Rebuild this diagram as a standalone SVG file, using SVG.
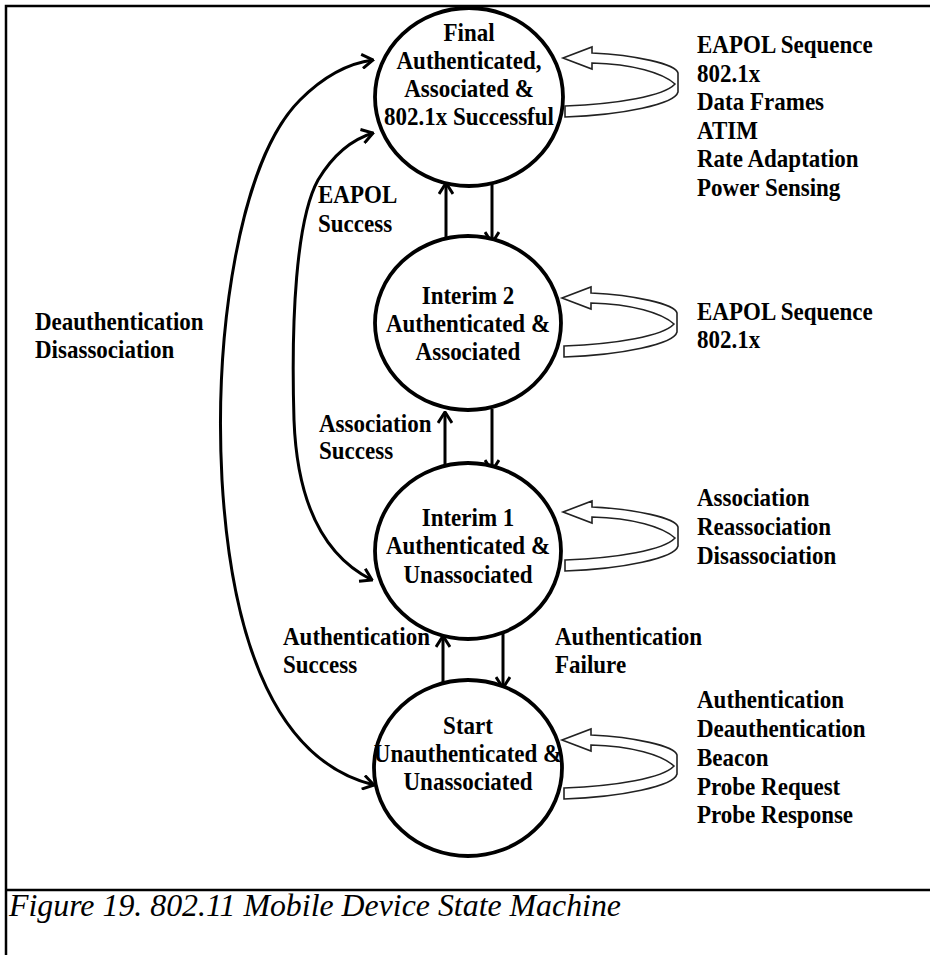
<svg xmlns="http://www.w3.org/2000/svg" xmlns:xlink="http://www.w3.org/1999/xlink" width="930" height="955" viewBox="0 0 930 955">
  <style>
    .frame { fill: none; stroke: #000; stroke-width: 2.5; }
    .state { fill: #fff; stroke: #000; stroke-width: 3.8; }
    .lbl { font-family: "Liberation Serif", "Times New Roman", serif; font-weight: bold; font-size: 25px; fill: #000; }
    .mid { text-anchor: middle; }
    .edge { fill: none; stroke: #000; stroke-width: 3; }
    .loop { fill: #fff; stroke: #222; stroke-width: 1.6; stroke-linejoin: miter; }
    .caption { font-family: "Liberation Serif", "Times New Roman", serif; font-style: italic; font-size: 32px; fill: #000; }
  </style>
  <defs>
    <!-- open chevron arrowhead -->
    <marker id="ah" viewBox="0 0 14 16" refX="12.5" refY="8" markerWidth="14" markerHeight="16" markerUnits="userSpaceOnUse" orient="auto-start-reverse">
      <path d="M1.5,1 L12.5,8 L1.5,15" fill="none" stroke="#000" stroke-width="3"/>
    </marker>
    <!-- hollow self-transition band, origin at the arrow tip -->
    <path id="selfloop" class="loop" d="M0,0 L29,-11 L29,-5 C72,-3 113,6 115,15 L115,34 C112,46 60,57 2,59 L2,48 C55,46 101,38 112,26 C100,15 70,6 29,5 L29,11 Z"/>
  </defs>

  <rect width="930" height="955" fill="#fff"/>

  <!-- figure frame and caption rule -->
  <g id="frame">
    <path class="frame" d="M6,955 L6,6 L930,6"/>
    <path class="frame" d="M6,890 L930,890"/>
  </g>

  <!-- transitions -->
  <g id="connectors">
    <path class="edge" marker-start="url(#ah)" marker-end="url(#ah)" d="M374,785 C280,762 232,650 222,480 C214,330 240,160 300,100 C325,75 350,63 373,60"/>
    <path class="edge" marker-start="url(#ah)" marker-end="url(#ah)" d="M372,580 C322,555 297,500 294,420 C291,320 296,220 318,180 C333,155 350,140 373,133"/>
    <path class="edge" marker-end="url(#ah)" d="M446,238 L446,183"/>
    <path class="edge" marker-end="url(#ah)" d="M492,184 L492,243"/>
    <path class="edge" marker-end="url(#ah)" d="M445,465 L445,412"/>
    <path class="edge" marker-end="url(#ah)" d="M492,409 L492,471"/>
    <path class="edge" marker-end="url(#ah)" d="M443,682 L443,636"/>
    <path class="edge" marker-end="url(#ah)" d="M503,633 L503,688"/>
  </g>

  <!-- states -->
  <g id="state-final">
    <ellipse class="state" cx="469" cy="97" rx="94" ry="89"/>
    <text class="lbl mid" transform="translate(469,41) scale(0.92,1)">Final</text>
    <text class="lbl mid" transform="translate(469,69) scale(0.92,1)">Authenticated,</text>
    <text class="lbl mid" transform="translate(469,97) scale(0.92,1)">Associated &amp;</text>
    <text class="lbl mid" transform="translate(469,125) scale(0.92,1)">802.1x Successful</text>
    <use xlink:href="#selfloop" x="563" y="58"/>
  </g>

  <g id="state-interim2">
    <ellipse class="state" cx="468" cy="323" rx="93" ry="87"/>
    <text class="lbl mid" transform="translate(468,304) scale(0.92,1)">Interim 2</text>
    <text class="lbl mid" transform="translate(468,332) scale(0.92,1)">Authenticated &amp;</text>
    <text class="lbl mid" transform="translate(468,360) scale(0.92,1)">Associated</text>
    <use xlink:href="#selfloop" x="562" y="298"/>
  </g>

  <g id="state-interim1">
    <ellipse class="state" cx="468" cy="551" rx="93" ry="88"/>
    <text class="lbl mid" transform="translate(468,526) scale(0.92,1)">Interim 1</text>
    <text class="lbl mid" transform="translate(468,554) scale(0.92,1)">Authenticated &amp;</text>
    <text class="lbl mid" transform="translate(468,583) scale(0.92,1)">Unassociated</text>
    <use xlink:href="#selfloop" x="563" y="512"/>
  </g>

  <g id="state-start">
    <ellipse class="state" cx="468" cy="768" rx="94" ry="88"/>
    <text class="lbl mid" transform="translate(468,734) scale(0.92,1)">Start</text>
    <text class="lbl mid" transform="translate(468,762) scale(0.92,1)">Unauthenticated &amp;</text>
    <text class="lbl mid" transform="translate(468,790) scale(0.92,1)">Unassociated</text>
    <use xlink:href="#selfloop" x="562" y="740"/>
  </g>

  <!-- event lists for the self transitions -->
  <g id="events-final" class="lbl">
    <text transform="translate(697,53) scale(0.92,1)">EAPOL Sequence</text>
    <text transform="translate(697,81.5) scale(0.92,1)">802.1x</text>
    <text transform="translate(697,110) scale(0.92,1)">Data Frames</text>
    <text transform="translate(697,138.5) scale(0.92,1)">ATIM</text>
    <text transform="translate(697,167) scale(0.92,1)">Rate Adaptation</text>
    <text transform="translate(697,195.5) scale(0.92,1)">Power Sensing</text>
  </g>
  <g id="events-interim2" class="lbl">
    <text transform="translate(697,320) scale(0.92,1)">EAPOL Sequence</text>
    <text transform="translate(697,348) scale(0.92,1)">802.1x</text>
  </g>
  <g id="events-interim1" class="lbl">
    <text transform="translate(697,506) scale(0.92,1)">Association</text>
    <text transform="translate(697,535) scale(0.92,1)">Reassociation</text>
    <text transform="translate(697,564) scale(0.92,1)">Disassociation</text>
  </g>
  <g id="events-start" class="lbl">
    <text transform="translate(697,708) scale(0.92,1)">Authentication</text>
    <text transform="translate(697,737) scale(0.92,1)">Deauthentication</text>
    <text transform="translate(697,766) scale(0.92,1)">Beacon</text>
    <text transform="translate(697,795) scale(0.92,1)">Probe Request</text>
    <text transform="translate(697,823) scale(0.92,1)">Probe Response</text>
  </g>

  <!-- transition labels -->
  <g id="transition-labels" class="lbl">
    <text transform="translate(35,330) scale(0.92,1)">Deauthentication</text>
    <text transform="translate(35,358) scale(0.92,1)">Disassociation</text>
    <text transform="translate(318,203) scale(0.92,1)">EAPOL</text>
    <text transform="translate(318,232) scale(0.92,1)">Success</text>
    <text transform="translate(319,432) scale(0.92,1)">Association</text>
    <text transform="translate(319,459) scale(0.92,1)">Success</text>
    <text transform="translate(283,645) scale(0.92,1)">Authentication</text>
    <text transform="translate(283,673) scale(0.92,1)">Success</text>
    <text transform="translate(555,645) scale(0.92,1)">Authentication</text>
    <text transform="translate(555,673) scale(0.92,1)">Failure</text>
  </g>

  <g id="caption">
    <text class="caption" x="9" y="916" textLength="612" lengthAdjust="spacingAndGlyphs">Figure 19. 802.11 Mobile Device State Machine</text>
  </g>
</svg>
